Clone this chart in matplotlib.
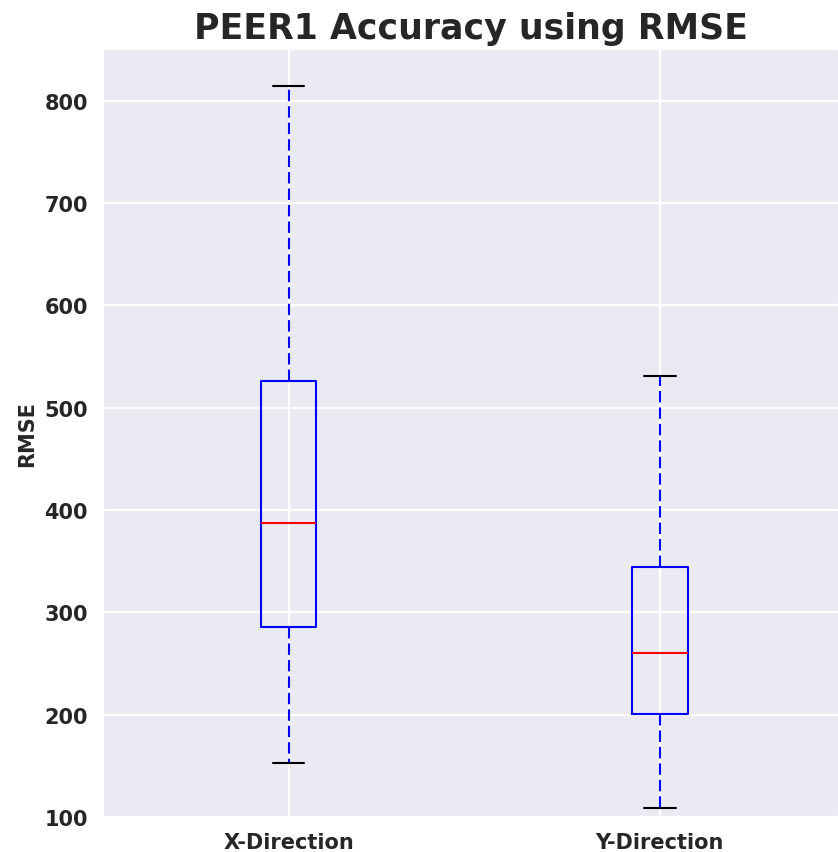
import matplotlib
matplotlib.use('Agg')
import matplotlib.pyplot as plt
import seaborn as sns

# Box summary stats
labels = ['X-Direction', 'Y-Direction']
whislo = [153, 109]
q1 = [286, 201]
med = [387, 260]
q3 = [526, 344]
whishi = [814, 531]

sns.set_style('darkgrid')
plt.rcParams['font.family'] = ['DejaVu Sans']
plt.rcParams['font.weight'] = 'bold'

stats = []
for i in range(len(labels)):
    stats.append({'label': labels[i], 'whislo': whislo[i], 'q1': q1[i],
                  'med': med[i], 'q3': q3[i], 'whishi': whishi[i],
                  'fliers': []})

fig = plt.figure(figsize=(8.38, 8.53), dpi=100)
ax = fig.add_axes([0.123, 0.041, 0.877, 0.9])

ax.bxp(stats, widths=0.15, showfliers=False,
       boxprops=dict(color='blue', linewidth=1.5),
       medianprops=dict(color='red', linewidth=1.5),
       whiskerprops=dict(color='blue', linewidth=1.5, linestyle=(0, (5.5, 2.4))),
       capprops=dict(color='black', linewidth=1.5),
       capwidths=0.085)

ax.set_xlim(0.5, 2.48)
ax.set_ylim(100, 850)
ax.set_yticks([100, 200, 300, 400, 500, 600, 700, 800])
ax.grid(True, color='white', linewidth=1.6)
ax.tick_params(axis='both', labelsize=15, length=0, pad=11)
for lab in ax.get_xticklabels() + ax.get_yticklabels():
    lab.set_fontweight('bold')

ax.set_ylabel('RMSE', fontsize=15, fontweight='bold', labelpad=5)
ax.set_title('PEER1 Accuracy using RMSE', fontsize=25, fontweight='bold', pad=8)

fig.savefig('out.png', dpi=100)
